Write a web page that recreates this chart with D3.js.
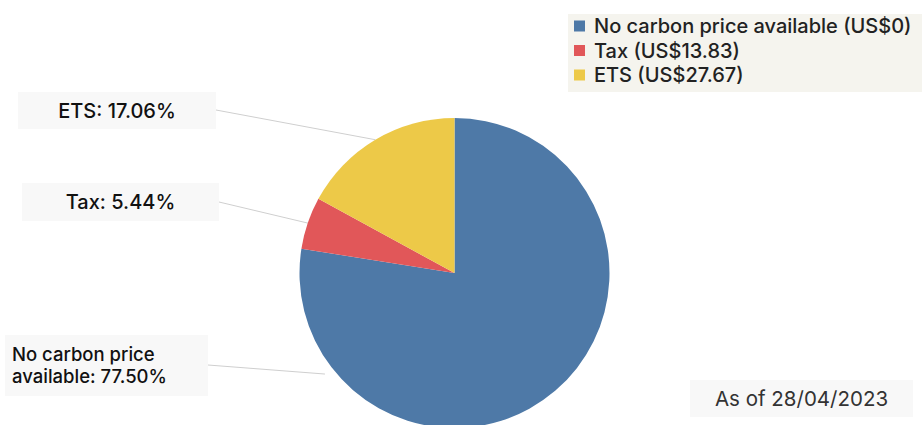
<!DOCTYPE html>
<html>
<head>
<meta charset="utf-8">
<script src="https://cdn.jsdelivr.net/npm/d3@7"></script>
<style>
  body { margin: 0; background: #fff; }
  svg { display: block; font-family: Inter, "Noto Sans", sans-serif; }
</style>
</head>
<body>
<div id="chart"></div>
<script>
// slice data, clockwise from 12 o'clock
const categories = ['No carbon price available', 'Tax', 'ETS'];
const shares = [77.50, 5.44, 17.06];
const prices = ['US$0', 'US$13.83', 'US$27.67'];
const colors = ['#4e79a7', '#e15759', '#edc948'];
const asOf = 'As of 28/04/2023';

const width = 922;
const height = 425;
const cx = 454.5;
const cy = 273;
const radius = 155;

const data = categories.map((c, i) => ({ type: c, value: shares[i], price: prices[i] }));

const svg = d3.select('#chart').append('svg')
  .attr('width', width)
  .attr('height', height);

const color = d3.scaleOrdinal().domain(categories).range(colors);

const pie = d3.pie().sort(null).value(d => d.value);
const arc = d3.arc().innerRadius(0).outerRadius(radius);
const arcs = pie(data);

// label boxes (layout only) and where their connector meets the pie
const labelBoxes = [
  { x: 5, y: 335, w: 203, h: 61, lines: ['No carbon price', 'available: 77.50%'], lineY: 365, angle: 4.05, rr: 1.06 },
  { x: 22, y: 183, w: 197, h: 38, lines: ['Tax: 5.44%'], lineY: 202, angle: null, rr: 1 },
  { x: 18, y: 92, w: 198, h: 37, lines: ['ETS: 17.06%'], lineY: 110, angle: null, rr: 1 }
];

// connectors first so they sit under the pie
labelBoxes.forEach((b, i) => {
  const a = b.angle != null ? b.angle : (arcs[i].startAngle + arcs[i].endAngle) / 2;
  const r = radius * b.rr;
  const px = cx + r * Math.sin(a);
  const py = cy - r * Math.cos(a);
  svg.append('line')
    .attr('x1', b.x + b.w).attr('y1', b.lineY)
    .attr('x2', px).attr('y2', py)
    .attr('stroke', '#cfcfcf')
    .attr('stroke-width', 1);
});

const g = svg.append('g')
  .attr('transform', `translate(${cx}, ${cy})`);

g.selectAll('path')
  .data(arcs)
  .enter().append('path')
  .attr('d', arc)
  .attr('fill', d => color(d.data.type));

// label boxes
labelBoxes.forEach(b => {
  const lg = svg.append('g');
  lg.append('rect')
    .attr('x', b.x).attr('y', b.y)
    .attr('width', b.w).attr('height', b.h)
    .attr('fill', '#f8f8f8');
  if (b.lines.length === 1) {
    lg.append('text')
      .attr('x', b.x + b.w / 2)
      .attr('y', b.y + b.h / 2 + 7)
      .attr('text-anchor', 'middle')
      .attr('font-size', '20px')
      .attr('font-weight', 500)
      .attr('fill', '#111')
      .text(b.lines[0]);
  } else {
    b.lines.forEach((t, j) => {
      lg.append('text')
        .attr('x', b.x + 7)
        .attr('y', b.y + 25.5 + j * 22.5)
        .attr('font-size', '18.5px')
        .attr('font-weight', 500)
        .attr('fill', '#111')
        .text(t);
    });
  }
});

// legend
const legendG = svg.append('g');
legendG.append('rect')
  .attr('x', 568).attr('y', 14)
  .attr('width', width - 568).attr('height', 78)
  .attr('fill', '#f5f4ee');

const legend = legendG.selectAll('.legend')
  .data(data)
  .enter().append('g')
  .attr('class', 'legend')
  .attr('transform', (d, i) => `translate(574, ${26 + 24.5 * i})`);

legend.append('rect')
  .attr('x', 0).attr('y', -5.5)
  .attr('width', 11).attr('height', 11)
  .attr('fill', d => color(d.type));

legend.append('text')
  .attr('x', 20)
  .attr('y', 7)
  .attr('font-size', '20px')
  .attr('font-weight', 500)
  .attr('fill', '#222')
  .text(d => `${d.type} (${d.price})`);

// date stamp
svg.append('rect')
  .attr('x', 690).attr('y', 380)
  .attr('width', 223).attr('height', 37)
  .attr('fill', '#f8f8f8');
svg.append('text')
  .attr('x', 801.5)
  .attr('y', 406)
  .attr('text-anchor', 'middle')
  .attr('font-size', '20.5px')
  .attr('fill', '#333')
  .text(asOf);
</script>
</body>
</html>
